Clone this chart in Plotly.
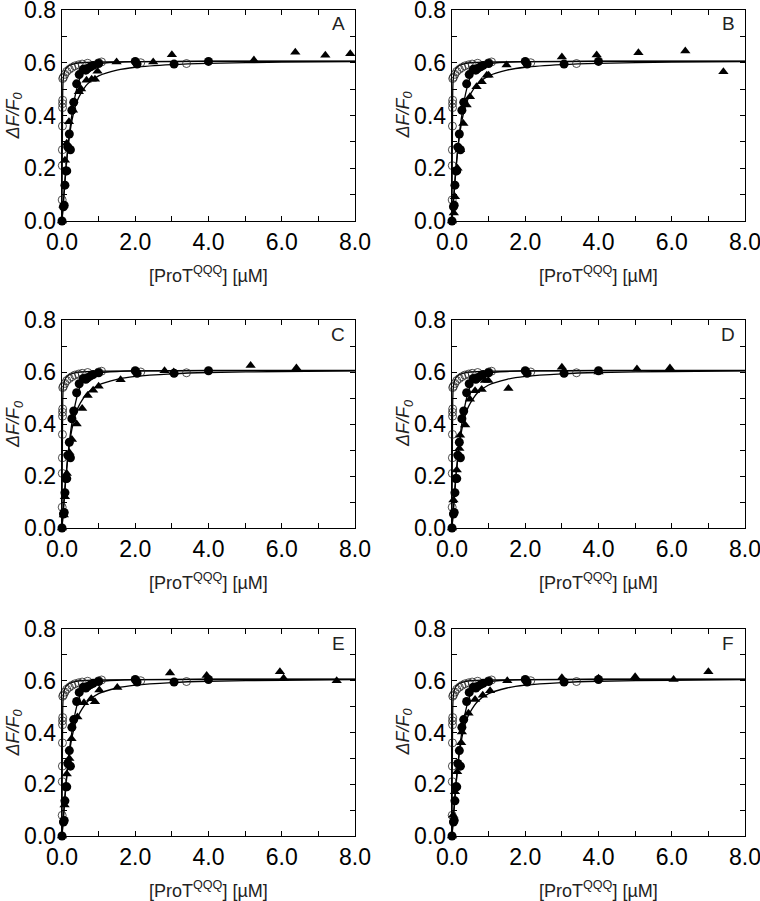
import plotly.graph_objects as go

panels = ["A", "B", "C", "D", "E", "F"]

# open circles (same in every panel)
open_x = [0.005, 0.008, 0.01, 0.012, 0.015, 0.015, 0.018, 0.02, 0.04, 0.08, 0.13, 0.2, 0.27, 0.35, 0.45, 0.55, 0.7, 1.0, 1.08, 2.15, 3.4]
open_y = [0.08, 0.21, 0.27, 0.36, 0.43, 0.445, 0.458, 0.54, 0.545, 0.556, 0.567, 0.575, 0.582, 0.588, 0.592, 0.595, 0.598, 0.6, 0.603, 0.6, 0.597]

# filled circles (same in every panel)
filled_x = [0.0, 0.04, 0.06, 0.08, 0.1, 0.13, 0.16, 0.2, 0.23, 0.27, 0.32, 0.4, 0.47, 0.58, 0.65, 0.7, 0.78, 0.85, 1.0, 2.0, 2.05, 3.06, 4.0]
filled_y = [0.0, 0.054, 0.06, 0.136, 0.19, 0.19, 0.28, 0.33, 0.27, 0.42, 0.45, 0.52, 0.555, 0.575, 0.572, 0.578, 0.585, 0.59, 0.597, 0.605, 0.595, 0.595, 0.605]

# filled triangles, one set per panel
tri_x = {
    "A": [0.0, 0.04, 0.08, 0.13, 0.19, 0.3, 0.46, 0.52, 0.67, 0.81, 0.9, 0.97, 1.49, 2.49, 3.0, 5.24, 6.37, 7.19, 7.87],
    "B": [0.0, 0.05, 0.08, 0.15, 0.22, 0.31, 0.4, 0.49, 0.67, 0.81, 0.95, 1.0, 1.49, 3.0, 3.95, 5.09, 6.37, 7.41],
    "C": [0.0, 0.05, 0.08, 0.13, 0.2, 0.27, 0.4, 0.55, 0.7, 0.85, 1.0, 1.6, 2.8, 3.05, 5.15, 6.4],
    "D": [0.0, 0.04, 0.13, 0.2, 0.22, 0.36, 0.49, 0.63, 0.81, 0.9, 0.99, 1.54, 3.0, 4.0, 5.05, 5.95],
    "E": [0.0, 0.07, 0.13, 0.2, 0.26, 0.42, 0.6, 0.8, 0.9, 1.02, 1.51, 2.95, 3.95, 5.95, 6.05, 7.5],
    "F": [0.0, 0.03, 0.08, 0.14, 0.25, 0.27, 0.45, 0.63, 0.84, 1.04, 1.51, 3.0, 4.0, 5.0, 6.05, 7.0],
}
tri_y = {
    "A": [0.0, 0.06, 0.23, 0.295, 0.376, 0.42, 0.49, 0.5, 0.534, 0.537, 0.537, 0.568, 0.603, 0.603, 0.63, 0.61, 0.64, 0.628, 0.634],
    "B": [0.0, 0.03, 0.092, 0.2, 0.27, 0.37, 0.44, 0.471, 0.509, 0.528, 0.553, 0.553, 0.591, 0.622, 0.629, 0.638, 0.645, 0.566],
    "C": [0.0, 0.05, 0.12, 0.21, 0.29, 0.34, 0.4, 0.46, 0.51, 0.53, 0.545, 0.57, 0.605, 0.6, 0.625, 0.615],
    "D": [0.0, 0.108, 0.223, 0.306, 0.357, 0.396, 0.495, 0.528, 0.533, 0.567, 0.567, 0.537, 0.618, 0.6, 0.612, 0.615],
    "E": [0.0, 0.12, 0.24, 0.3, 0.376, 0.46, 0.515, 0.53, 0.519, 0.564, 0.574, 0.63, 0.62, 0.635, 0.61, 0.6],
    "F": [0.0, 0.08, 0.171, 0.248, 0.36, 0.402, 0.474, 0.528, 0.544, 0.561, 0.6, 0.612, 0.61, 0.615, 0.605, 0.635],
}

# fitted curves
fit_open_x = [0.0, 0.005, 0.01, 0.015, 0.02, 0.03, 0.05, 0.08, 0.12, 0.2, 0.3, 0.5, 1.0, 2.0, 4.0, 8.0]
fit_open_y = [0.0, 0.15, 0.3, 0.42, 0.49, 0.53, 0.555, 0.57, 0.58, 0.59, 0.595, 0.6, 0.603, 0.604, 0.605, 0.605]
fit_filled_x = [0.0, 0.05, 0.1, 0.15, 0.2, 0.3, 0.4, 0.5, 0.6, 0.8, 1.0, 1.5, 2.0, 4.0, 8.0]
fit_filled_y = [0.0, 0.09, 0.18, 0.26, 0.33, 0.43, 0.5, 0.545, 0.568, 0.588, 0.597, 0.602, 0.604, 0.606, 0.606]
fit_tri_x = [0.0, 0.05, 0.1, 0.2, 0.3, 0.4, 0.5, 0.7, 1.0, 1.5, 2.0, 3.0, 4.0, 6.0, 8.0]
fit_tri_y = [0.0, 0.1, 0.19, 0.32, 0.4, 0.45, 0.48, 0.52, 0.55, 0.572, 0.583, 0.593, 0.598, 0.602, 0.604]

x_ticks = [0, 2, 4, 6, 8]
x_ticklabels = ["0.0", "2.0", "4.0", "6.0", "8.0"]
y_ticks = [0, 0.2, 0.4, 0.6, 0.8]
y_ticklabels = ["0.0", "0.2", "0.4", "0.6", "0.8"]

W, H = 760, 901
col_px = [(62, 355), (452, 745)]
row_px = [(10, 221), (320, 528), (629, 836)]

fig = go.Figure()
layout = dict(
    width=W, height=H, margin=dict(l=0, r=0, t=0, b=0, autoexpand=False),
    paper_bgcolor="white", plot_bgcolor="white", showlegend=False,
    font=dict(family="Liberation Sans, Arial, sans-serif", color="black"),
)
annotations = []

for i, p in enumerate(panels):
    r, c = divmod(i, 2)
    x0, x1 = col_px[c]
    yt, yb = row_px[r]
    n = i + 1
    xa = "xaxis" if n == 1 else f"xaxis{n}"
    ya = "yaxis" if n == 1 else f"yaxis{n}"
    xr = "x" if n == 1 else f"x{n}"
    yr = "y" if n == 1 else f"y{n}"
    common = dict(
        showgrid=False, zeroline=False, showline=True, linecolor="black", linewidth=1.3,
        mirror="ticks", ticks="inside", ticklen=5, tickwidth=1, tickcolor="black",
        tickfont=dict(size=23, color="black"), automargin=False, ticklabeloverflow="allow",
    )
    layout[xa] = dict(common, domain=[x0 / W, x1 / W], anchor=yr, range=[0, 8],
                      tickvals=x_ticks, ticktext=x_ticklabels,
                      minor=dict(dtick=1, ticks="inside", ticklen=5, tickcolor="black"))
    layout[ya] = dict(common, domain=[1 - yb / H, 1 - yt / H], anchor=xr, range=[0, 0.8],
                      tickvals=y_ticks, ticktext=y_ticklabels,
                      minor=dict(dtick=0.1, ticks="inside", ticklen=5, tickcolor="black"))

    line = dict(color="black", width=1.3, shape="spline", smoothing=0.6)
    fig.add_trace(go.Scatter(x=fit_tri_x, y=fit_tri_y, mode="lines", line=line, xaxis=xr, yaxis=yr))
    fig.add_trace(go.Scatter(x=fit_filled_x, y=fit_filled_y, mode="lines", line=line, xaxis=xr, yaxis=yr))
    fig.add_trace(go.Scatter(x=fit_open_x, y=fit_open_y, mode="lines", line=line, xaxis=xr, yaxis=yr))
    fig.add_trace(go.Scatter(x=open_x, y=open_y, mode="markers", cliponaxis=False,
                             marker=dict(symbol="circle-open", size=8, color="#222", line=dict(width=0.8)),
                             xaxis=xr, yaxis=yr))
    fig.add_trace(go.Scatter(x=tri_x[p], y=tri_y[p], mode="markers", cliponaxis=False,
                             marker=dict(symbol="triangle-up", size=9, color="black"),
                             xaxis=xr, yaxis=yr))
    fig.add_trace(go.Scatter(x=filled_x, y=filled_y, mode="markers", cliponaxis=False,
                             marker=dict(symbol="circle", size=9, color="black"),
                             xaxis=xr, yaxis=yr))

    # panel letter
    annotations.append(dict(text=p, x=(x1 - 17) / W, y=1 - (yt + 14) / H, xref="paper", yref="paper",
                            showarrow=False, font=dict(size=19, color="#222"),
                            xanchor="center", yanchor="middle"))
    # x title
    annotations.append(dict(text="[ProT<sup>QQQ</sup>] [µM]", x=(x0 + x1) / 2 / W, y=1 - (yb + 67) / H,
                            xref="paper", yref="paper", showarrow=False,
                            font=dict(size=18, color="#222"), xanchor="center", yanchor="bottom"))
    # y title
    annotations.append(dict(text="<i>ΔF/F<sub>0</sub></i>", x=(x0 - 48) / W, y=1 - (yt + yb) / 2 / H,
                            xref="paper", yref="paper", showarrow=False, textangle=-90,
                            font=dict(size=18, color="#222"), xanchor="center", yanchor="middle"))

layout["annotations"] = annotations
fig.update_layout(**layout)
fig.write_html("out.html", config={"displayModeBar": False, "staticPlot": True},
               post_script="document.body.style.margin='0px';document.body.style.overflow='hidden';")
